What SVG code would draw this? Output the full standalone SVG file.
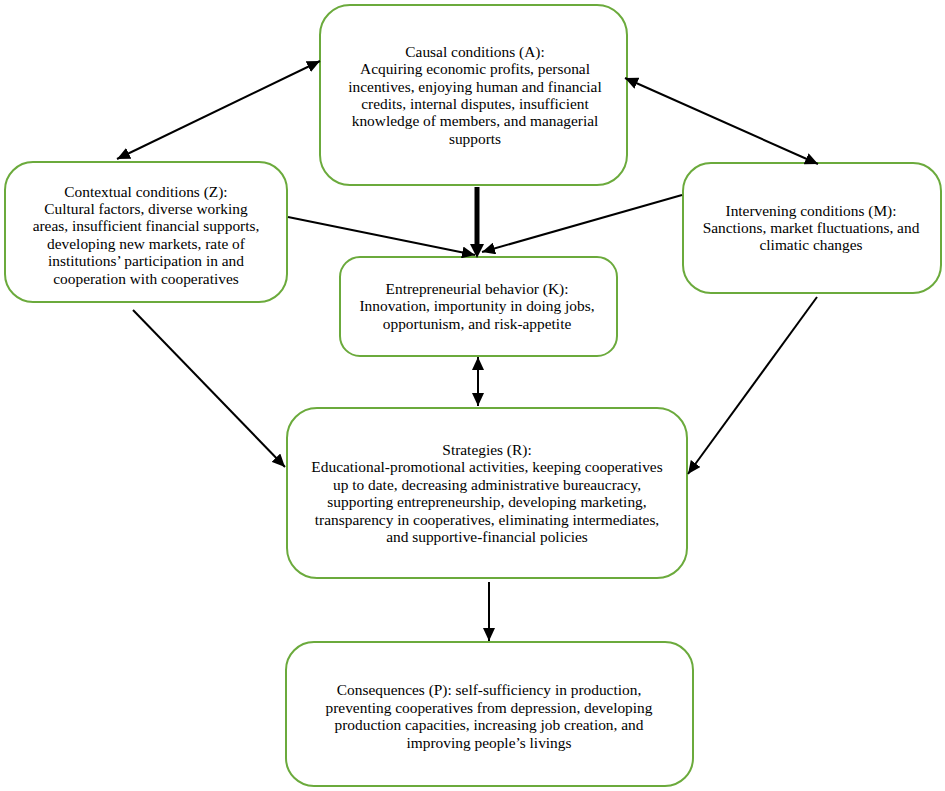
<svg xmlns="http://www.w3.org/2000/svg" width="945" height="791" viewBox="0 0 945 791">
<style>
.box{fill:#fff;stroke:#6BAA3C;stroke-width:2}
.t{font-family:"Liberation Serif","Times New Roman",serif;font-size:15.4px;fill:#000;text-anchor:middle}
.c{stroke:#000;stroke-width:2;fill:none}
</style>
<defs>
<marker id="ah" markerUnits="userSpaceOnUse" markerWidth="14" markerHeight="12" refX="13" refY="6" orient="auto-start-reverse">
<path d="M0,0 L13,6 L0,12 Z" fill="#000"/>
</marker>
</defs>
<rect width="945" height="791" fill="#fff"/>
<g id="causal">
<rect class="box" x="320" y="5" width="307" height="180" rx="30"/>
<text class="t" x="475" y="57">Causal conditions (A):</text>
<text class="t" x="475" y="74">Acquiring economic profits, personal</text>
<text class="t" x="475" y="92">incentives, enjoying human and financial</text>
<text class="t" x="475" y="109">credits, internal disputes, insufficient</text>
<text class="t" x="475" y="126">knowledge of members, and managerial</text>
<text class="t" x="475" y="144">supports</text>
</g>
<g id="contextual">
<rect class="box" x="5" y="162" width="282" height="140" rx="28"/>
<text class="t" x="146" y="197">Contextual conditions (Z):</text>
<text class="t" x="146" y="214">Cultural factors, diverse working</text>
<text class="t" x="146" y="231">areas, insufficient financial supports,</text>
<text class="t" x="146" y="249">developing new markets, rate of</text>
<text class="t" x="146" y="266">institutions’ participation in and</text>
<text class="t" x="146" y="284">cooperation with cooperatives</text>
</g>
<g id="intervening">
<rect class="box" x="683" y="163" width="258" height="130" rx="28"/>
<text class="t" x="811" y="216">Intervening conditions (M):</text>
<text class="t" x="811" y="233">Sanctions, market fluctuations, and</text>
<text class="t" x="811" y="250">climatic changes</text>
</g>
<g id="entrepreneurial">
<rect class="box" x="340" y="257" width="277" height="99" rx="20"/>
<text class="t" x="477" y="294">Entrepreneurial behavior (K):</text>
<text class="t" x="477" y="311">Innovation, importunity in doing jobs,</text>
<text class="t" x="477" y="329">opportunism, and risk-appetite</text>
</g>
<g id="strategies">
<rect class="box" x="287" y="408" width="400" height="170" rx="30"/>
<text class="t" x="487" y="455">Strategies (R):</text>
<text class="t" x="487" y="472">Educational-promotional activities, keeping cooperatives</text>
<text class="t" x="487" y="490">up to date, decreasing administrative bureaucracy,</text>
<text class="t" x="487" y="507">supporting entrepreneurship, developing marketing,</text>
<text class="t" x="487" y="525">transparency in cooperatives, eliminating intermediates,</text>
<text class="t" x="487" y="542">and supportive-financial policies</text>
</g>
<g id="consequences">
<rect class="box" x="286" y="642" width="407" height="144" rx="28"/>
<text class="t" x="489" y="695">Consequences (P): self-sufficiency in production,</text>
<text class="t" x="489" y="713">preventing cooperatives from depression, developing</text>
<text class="t" x="489" y="730">production capacities, increasing job creation, and</text>
<text class="t" x="489" y="748">improving people’s livings</text>
</g>
<g id="connectors">
<line class="c" x1="117" y1="159" x2="320" y2="61" marker-start="url(#ah)" marker-end="url(#ah)"/>
<line class="c" x1="625" y1="78" x2="818" y2="164" marker-start="url(#ah)" marker-end="url(#ah)"/>
<line x1="477" y1="187" x2="477" y2="246" stroke="#000" stroke-width="5"/>
<path d="M470,244 L484,244 L477,258 Z" fill="#000"/>
<line class="c" x1="288" y1="217" x2="475" y2="255" marker-end="url(#ah)"/>
<line class="c" x1="682" y1="195" x2="482" y2="252" marker-end="url(#ah)"/>
<line class="c" x1="478" y1="357" x2="478" y2="406" marker-start="url(#ah)" marker-end="url(#ah)"/>
<line class="c" x1="133" y1="310" x2="285" y2="467" marker-end="url(#ah)"/>
<line class="c" x1="817" y1="297" x2="688" y2="474" marker-end="url(#ah)"/>
<line class="c" x1="489" y1="582" x2="489" y2="641" marker-end="url(#ah)"/>
</g>
</svg>
